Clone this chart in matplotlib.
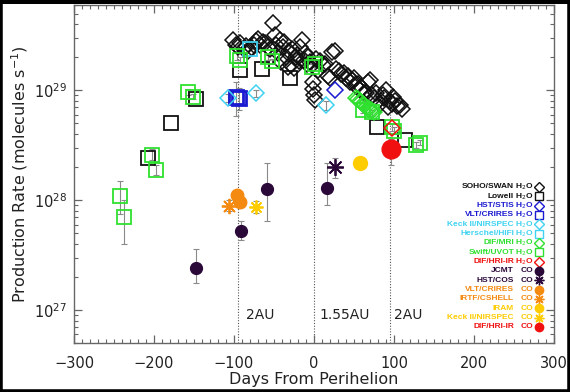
import matplotlib
matplotlib.use("Agg")
import matplotlib.pyplot as plt
from matplotlib.lines import Line2D
from matplotlib.patches import Rectangle
import numpy as np

# ---------------- data ----------------
swan_x = [-101, -97, -95, -92, -88, -85, -82, -78, -75, -72, -70, -67, -64, -61, -58, -55,
          -51, -49, -47, -45, -43, -41, -39, -37, -35, -33, -31, -29, -27, -25, -23, -21,
          -19, -17, -15, -13, -11, -9, -7, -5, -3, -1, -1, 0, 1, 2, 5, 8, 11, 14, 17, 20,
          22, 26, 28, 31, 34, 37, 40, 43, 45, 48, 50, 53, 55, 57, 60, 62, 65, 68, 70, 72,
          75, 78, 80, 83, 86, 88, 90, 92, 95, 97, 99, 101, 104, 107, 110]
swan_y = [2.85e29, 2.6e29, 2.5e29, 2.7e29, 2.4e29, 2.55e29, 2.3e29, 2.45e29, 2.6e29, 2.8e29,
          2.95e29, 2.6e29, 2.75e29, 2.7e29, 2.5e29, 2.4e29, 4.1e29, 3.2e29, 2.6e29, 2.2e29,
          2.9e29, 1.8e29, 2.5e29, 2.75e29, 2.0e29, 1.65e29, 2.3e29, 1.7e29, 2.4e29, 1.6e29,
          2.0e29, 2.1e29, 1.85e29, 2.5e29, 2.85e29, 1.9e29, 2.2e29, 1.75e29, 2.0e29, 1.8e29,
          1.7e29, 1.19e29, 1.04e29, 0.9e29, 0.81e29, 1.95e29, 1.55e29, 1.85e29, 1.7e29, 1.75e29,
          1.35e29, 1.3e29, 2.25e29, 2.3e29, 1.58e29, 1.5e29, 1.4e29, 1.45e29, 1.3e29, 1.35e29,
          1.2e29, 1.25e29, 1.3e29, 1.1e29, 1.15e29, 1.0e29, 1.05e29, 0.95e29, 0.95e29, 1.2e29,
          1.25e29, 0.9e29, 0.85e29, 0.95e29, 0.8e29, 0.75e29, 0.9e29, 0.85e29, 1.0e29, 0.7e29,
          0.8e29, 0.75e29, 0.88e29, 0.8e29, 0.72e29, 0.73e29, 0.68e29]

lowell_x = [-208, -179, -147, -92, -65, -30, 79, 114]
lowell_y = [2.4e28, 5.1e28, 8.3e28, 1.52e29, 1.57e29, 1.29e29, 4.6e28, 3.5e28]

stis_x = [26]
stis_y = [1.0e29]

vltw_x = [-97, -94]
vltw_y = [8.7e28, 8.5e28]
vltw_lo = [5.8e28, 6.6e28]
vltw_hi = [1.19e29, 1.05e29]

keckw_x = [-107, -72, 15]
keckw_y = [8.6e28, 9.4e28, 7.3e28]
keckw_lo = [7.9e28, 8.7e28, 6.6e28]
keckw_hi = [9.3e28, 1.01e29, 8.0e28]

hifi_x = [-80]
hifi_y = [2.4e29]

mri_x = [52, 55, 57, 59, 61, 63, 65, 67, 69, 71, 73, 75]
mri_y = [8.6e28, 8.3e28, 8.0e28, 7.8e28, 7.5e28, 7.3e28, 7.1e28, 6.9e28, 6.8e28, 6.6e28,
         6.5e28, 6.4e28]

swift_x = [-242, -237, -203, -197, -157, -151, -96, -93, -57, -53, -2, 1, 61, 72, 97, 100, 128, 132]
swift_y = [1.1e28, 7.0e27, 2.6e28, 1.9e28, 9.6e28, 8.8e28, 2.05e29, 1.9e29, 2.0e29, 1.85e29,
           1.65e29, 1.75e29, 6.6e28, 6.3e28, 4.6e28, 4.3e28, 3.2e28, 3.35e28]
swift_lo = [7.5e27, 4.0e27, 2.3e28, 1.7e28, 9.0e28, 8.3e28, 1.9e29, 1.8e29, 1.9e29, 1.75e29,
            1.55e29, 1.65e29, 6.2e28, 5.9e28, 4.3e28, 4.0e28, 3.0e28, 3.15e28]
swift_hi = [1.5e28, 1.0e28, 2.9e28, 2.1e28, 1.02e29, 9.3e28, 2.2e29, 2.0e29, 2.1e29, 1.95e29,
            1.75e29, 1.85e29, 7.0e28, 6.7e28, 4.9e28, 4.6e28, 3.4e28, 3.55e28]

hriw_x = [97]
hriw_y = [4.5e28]

jcmt_x = [-147, -91, -59, 16]
jcmt_y = [2.4e27, 5.2e27, 1.26e28, 1.3e28]
jcmt_lo = [1.75e27, 4.3e27, 6.5e27, 9.0e27]
jcmt_hi = [3.6e27, 6.5e27, 2.2e28, 2.2e28]

cos_x = [26]
cos_y = [2.0e28]
cos_lo = [1.6e28]
cos_hi = [2.4e28]

vltc_x = [-96, -92]
vltc_y = [1.12e28, 9.7e27]

irtf_x = [-106]
irtf_y = [8.9e27]
irtf_lo = [7.9e27]
irtf_hi = [1.0e28]

iram_x = [57]
iram_y = [2.2e28]

keckc_x = [-72]
keckc_y = [8.7e27]
keckc_lo = [7.7e27]
keckc_hi = [9.8e27]

hric_x = [96]
hric_y = [2.95e28]
hric_lo = [2.1e28]
hric_hi = [3.6e28]

au_lines = [-95, 0, 95]
au_labels = ["2AU", "1.55AU", "2AU"]
au_label_x = [-85, 7, 100]

legend_names = ["SOHO/SWAN", "Lowell", "HST/STIS", "VLT/CRIRES", "Keck II/NIRSPEC",
                "Herschel/HIFI", "DIF/MRI", "Swift/UVOT", "DIF/HRI-IR", "JCMT", "HST/COS",
                "VLT/CRIRES", "IRTF/CSHELL", "IRAM", "Keck II/NIRSPEC", "DIF/HRI-IR"]
legend_species = ["H$_2$O"] * 9 + ["CO"] * 7

# ---------------- styles ----------------
BLACK = "#111111"
BLUE = "#1a1ad0"
CYAN = "#3fd3f2"
GREEN = "#2fe02f"
RED = "#f01010"
PURPLE = "#2a0838"
ORANGE = "#f58a10"
YELLOW = "#ffcc00"
ERR = "#8a8a8a"

W, H = 570, 392
fig = plt.figure(figsize=(W / 100, H / 100), dpi=100)
fig.patch.set_facecolor("white")
ax = fig.add_axes([74 / W, 1 - 343 / H, 480 / W, 338 / H])

ax.set_xlim(-300, 300)
ax.set_yscale("log")
ax.set_ylim(5e26, 6e29)


def err(x, y, lo, hi):
    y = np.asarray(y)
    yerr = np.vstack([y - np.asarray(lo), np.asarray(hi) - y])
    ax.errorbar(x, y, yerr=yerr, fmt="none", ecolor=ERR, elinewidth=0.8,
                capsize=2, capthick=0.8, zorder=2)


sq_open = dict(ls="none", marker="s", mfc="none", ms=10, mew=1.3)
dm_open = dict(ls="none", marker="D", mfc="none", ms=8.5, mew=1.1)

# error bars first
err(swift_x, swift_y, swift_lo, swift_hi)
err(vltw_x, vltw_y, vltw_lo, vltw_hi)
err(keckw_x, keckw_y, keckw_lo, keckw_hi)
err(jcmt_x, jcmt_y, jcmt_lo, jcmt_hi)
err(cos_x, cos_y, cos_lo, cos_hi)
err(irtf_x, irtf_y, irtf_lo, irtf_hi)
err(keckc_x, keckc_y, keckc_lo, keckc_hi)
err(hric_x, hric_y, hric_lo, hric_hi)

ax.plot(swan_x, swan_y, mec=BLACK, zorder=3, **dm_open)
ax.plot(lowell_x, lowell_y, mec=BLACK, zorder=3, **sq_open)
ax.plot(stis_x, stis_y, mec=BLUE, zorder=4, **dm_open)
ax.plot(vltw_x, vltw_y, mec=BLUE, zorder=4, **{**sq_open, "mew": 2.0})
ax.plot(keckw_x, keckw_y, mec=CYAN, zorder=4, **dm_open)
ax.plot(hifi_x, hifi_y, mec=CYAN, zorder=4, **sq_open)
ax.plot(mri_x, mri_y, mec=GREEN, zorder=4, **dm_open)
ax.plot(swift_x, swift_y, mec=GREEN, zorder=4, **sq_open)
ax.plot(hriw_x, hriw_y, mec=RED, zorder=5, **dm_open)

ax.plot(jcmt_x, jcmt_y, ls="none", marker="o", ms=8.5, mfc=PURPLE, mec=PURPLE, zorder=5)
ax.plot(cos_x, cos_y, ls="none", marker=(8, 2, 0), ms=12, mec=PURPLE, mew=1.3, zorder=5)
ax.plot(vltc_x, vltc_y, ls="none", marker="o", ms=9, mfc=ORANGE, mec=ORANGE, zorder=5)
ax.plot(irtf_x, irtf_y, ls="none", marker=(8, 2, 0), ms=11, mec=ORANGE, mew=1.3, zorder=5)
ax.plot(iram_x, iram_y, ls="none", marker="o", ms=10, mfc=YELLOW, mec=YELLOW, zorder=5)
ax.plot(keckc_x, keckc_y, ls="none", marker=(8, 2, 0), ms=10, mec=YELLOW, mew=1.3, zorder=5)
ax.plot(hric_x, hric_y, ls="none", marker="o", ms=13.5, mfc=RED, mec=RED, zorder=6)

# AU lines and labels
for xv in au_lines:
    ax.axvline(xv, color="#555555", ls=(0, (1, 1.5)), lw=0.8, zorder=1)
for xv, lab in zip(au_label_x, au_labels):
    ax.text(xv, 9e26, lab, fontsize=10, ha="left", va="center", color="#222222")

# axes style
spine_c = "#666666"
for s in ax.spines.values():
    s.set_color(spine_c)
    s.set_linewidth(1.0)
ax.set_xticks([-300, -200, -100, 0, 100, 200, 300])
ax.set_xticks(np.arange(-300, 301, 10), minor=True)
ax.tick_params(which="both", direction="in", top=True, right=True, color=spine_c)
ax.tick_params(which="major", length=6, width=0.9, labelsize=10.5, labelcolor="#222222")
ax.tick_params(which="minor", length=3, width=0.8)
ax.tick_params(axis="x", which="major", pad=9)
ax.tick_params(axis="y", which="major", pad=5)
ax.set_yticks([1e27, 1e28, 1e29])
ax.set_xlabel("Days From Perihelion", fontsize=11.5, color="#222222", labelpad=1)
ax.set_ylabel("Production Rate (molecules s$^{-1}$)", fontsize=11.5, color="#222222",
              labelpad=3)

# custom legend
leg_font = ["Liberation Sans Narrow", "Liberation Sans", "DejaVu Sans"]
leg_colors = [BLACK, BLACK, BLUE, BLUE, CYAN, CYAN, GREEN, GREEN, RED,
              PURPLE, PURPLE, ORANGE, ORANGE, YELLOW, YELLOW, RED]
leg_markers = ["D", "s", "D", "s", "D", "s", "D", "s", "D",
               "o", (8, 2, 0), "o", (8, 2, 0), "o", (8, 2, 0), "o"]
for i, (name, sp) in enumerate(zip(legend_names, legend_species)):
    py = 187 + i * 9.33
    fy = 1 - py / H
    c = leg_colors[i]
    fig.text(514 / W, fy, name, fontsize=6, color=c, ha="right", va="center",
             family=leg_font, weight="bold")
    fig.text(533 / W, fy, sp, fontsize=6, color=c, ha="right", va="center",
             family=leg_font, weight="bold")
    m = leg_markers[i]
    if m in ("D", "s"):
        kw = dict(mfc="none", mec=c, mew=1.0, ms=4.6 if m == "D" else 6)
    elif m == "o":
        kw = dict(mfc=c, mec=c, ms=6)
    else:
        kw = dict(mec=c, mew=1.0, ms=7)
    fig.add_artist(Line2D([539 / W], [fy], marker=m, ls="none",
                          transform=fig.transFigure, **kw))

# black frame around figure
fig.add_artist(Rectangle((0, 0), 1, 1, transform=fig.transFigure, fill=False,
                         ec="black", lw=4.0, zorder=10))
fig.add_artist(Rectangle((0, 1 - 4 / H), 1, 4 / H, transform=fig.transFigure,
                         fc="black", ec="none", zorder=10))

fig.savefig("out.png", dpi=100, facecolor="white")
